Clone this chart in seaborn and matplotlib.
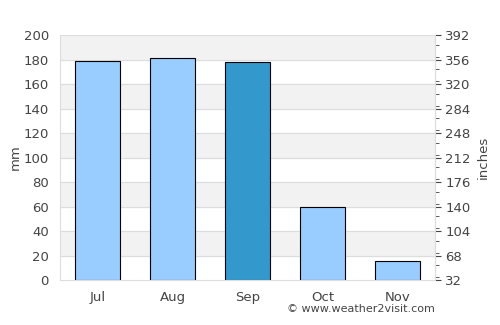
import matplotlib
matplotlib.use("Agg")
import matplotlib.pyplot as plt
import seaborn as sns
import pandas as pd
from matplotlib.ticker import MultipleLocator

months = ["Jul", "Aug", "Sep", "Oct", "Nov"]
rain_mm = [179, 181, 178, 60, 16]
highlight = "Sep"
right_ticks = [32, 68, 104, 140, 176, 212, 248, 284, 320, 356, 392]

sns.set_style("white")
plt.rcParams['font.family'] = ['DejaVu Sans']

df = pd.DataFrame({"month": months, "mm": rain_mm})
colors = ["#3399cc" if m == highlight else "#99ccff" for m in months]

fig = plt.figure(figsize=(5, 3.25), dpi=100)
ax = fig.add_axes([0.12, 0.138, 0.75, 0.754])

# alternating bands
for lo in range(20, 200, 40):
    ax.axhspan(lo, lo + 20, color="#f2f2f2", zorder=0)
for y in range(20, 201, 20):
    ax.axhline(y, color="#dddddd", lw=0.8, zorder=0.5)

sns.barplot(data=df, x="month", y="mm", hue="month", palette=colors, legend=False,
            width=0.6, edgecolor="black", linewidth=0.8, saturation=1, ax=ax, zorder=2)

ax.set_ylim(0, 200)
ax.set_yticks(range(0, 201, 20))
ax.set_xlim(-0.5, 4.5)
ax.set_xlabel("")
ax.set_ylabel("mm", color="#444444", fontsize=9.5, labelpad=1)
ax.tick_params(axis="y", length=0, labelsize=9.5, labelcolor="#444444", pad=8)
ax.tick_params(axis="x", length=0, labelsize=9.5, labelcolor="#444444", pad=8)
for s in ax.spines.values():
    s.set_color("#dddddd")
ax.spines["top"].set_visible(False)

ax2 = ax.twinx()
ax2.set_ylim(32, 392)
ax2.set_yticks(right_ticks)
ax2.yaxis.set_minor_locator(MultipleLocator(18))
ax2.tick_params(axis="y", which="major", length=4, color="#444444", labelsize=9.5, labelcolor="#444444")
ax2.tick_params(axis="y", which="minor", length=3, color="#444444")
ax2.set_ylabel("inches", color="#444444", fontsize=9.5)
for s in ax2.spines.values():
    s.set_visible(False)
ax2.spines["right"].set_visible(True)
ax2.spines["right"].set_color("#dddddd")

fig.text(0.87, 0.035, "© www.weather2visit.com", ha="right", va="bottom", fontsize=8, color="#444444")

fig.savefig("out.png", dpi=100)
